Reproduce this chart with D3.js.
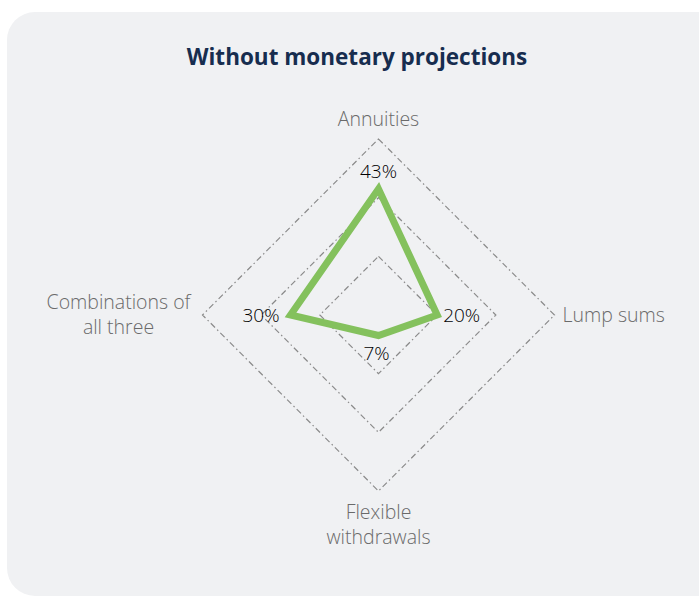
<!DOCTYPE html>
<html>
<head>
<meta charset="utf-8">
<script src="https://cdn.jsdelivr.net/npm/d3@7"></script>
<style>
  html, body { margin: 0; padding: 0; background: #ffffff; }
  svg { display: block; }
</style>
</head>
<body>
<svg id="chart"></svg>
<script>
// data
const axes = ['Annuities', 'Lump sums', 'Flexible withdrawals', 'Combinations of all three'];
const values = [43, 20, 7, 30];
const gridLevels = [20, 40, 60];
const axisLabelLines = [['Annuities'], ['Lump sums'], ['Flexible', 'withdrawals'], ['Combinations of', 'all three']];

const width = 699;
const height = 596;
const cx = 378.5;
const cy = 315;
const radius = 176;

const svg = d3.select('#chart').attr('width', width).attr('height', height);

svg.append('rect')
  .attr('x', 7).attr('y', 12)
  .attr('width', 720).attr('height', 584)
  .attr('rx', 28)
  .attr('fill', '#f0f1f3');

svg.append('text')
  .attr('x', 357).attr('y', 65)
  .attr('text-anchor', 'middle')
  .attr('font-family', 'Open Sans, sans-serif')
  .attr('font-weight', 700)
  .attr('font-size', 22.5)
  .attr('fill', '#172d4f')
  .text('Without monetary projections');

const r = d3.scaleLinear().domain([0, 60]).range([0, radius]);
const angle = d3.scalePoint().domain(axes).range([0, 2 * Math.PI * 3 / 4]);

const point = (a, v) => [Math.sin(angle(a)) * r(v), -Math.cos(angle(a)) * r(v)];

const g = svg.append('g').attr('transform', `translate(${cx},${cy})`);

const line = d3.line().curve(d3.curveLinearClosed);

g.selectAll('path.grid')
  .data(gridLevels)
  .join('path')
  .attr('class', 'grid')
  .attr('d', (lv) => line(axes.map((a) => point(a, lv))))
  .attr('fill', 'none')
  .attr('stroke', '#8a8a8a')
  .attr('stroke-width', 1.2)
  .attr('stroke-dasharray', '6,3,1.5,3');

g.append('path')
  .attr('d', line(axes.map((a, i) => point(a, values[i]))))
  .attr('fill', 'none')
  .attr('stroke', '#84c15d')
  .attr('stroke-width', 7)
  .attr('stroke-linejoin', 'miter');

// axis labels
const labelPos = [
  { x: 0, y: -189, anchor: 'middle' },
  { x: 184, y: 7, anchor: 'start' },
  { x: 0, y: 204, anchor: 'middle' },
  { x: -260, y: -6, anchor: 'middle' },
];

axes.forEach((a, i) => {
  const t = g.append('text')
    .attr('x', labelPos[i].x)
    .attr('y', labelPos[i].y)
    .attr('text-anchor', labelPos[i].anchor)
    .attr('font-family', 'Open Sans, sans-serif')
    .attr('font-weight', 300)
    .attr('font-size', 19.5)
    .attr('fill', '#6a6a6a');
  axisLabelLines[i].forEach((ln, j) => {
    t.append('tspan')
      .attr('x', labelPos[i].x)
      .attr('dy', j === 0 ? 0 : 25)
      .text(ln);
  });
});

// value labels
const valuePos = [
  { dx: 0, dy: -11, anchor: 'middle' },
  { dx: 6, dy: 7, anchor: 'start' },
  { dx: -2, dy: 24, anchor: 'middle' },
  { dx: -11, dy: 7, anchor: 'end' },
];

g.selectAll('text.value')
  .data(values)
  .join('text')
  .attr('class', 'value')
  .attr('x', (d, i) => point(axes[i], d)[0] + valuePos[i].dx)
  .attr('y', (d, i) => point(axes[i], d)[1] + valuePos[i].dy)
  .attr('text-anchor', (d, i) => valuePos[i].anchor)
  .attr('font-family', 'Open Sans, sans-serif')
  .attr('font-weight', 300)
  .attr('font-size', 19)
  .attr('fill', '#000000')
  .text((d) => `${d}%`);
</script>
</body>
</html>
